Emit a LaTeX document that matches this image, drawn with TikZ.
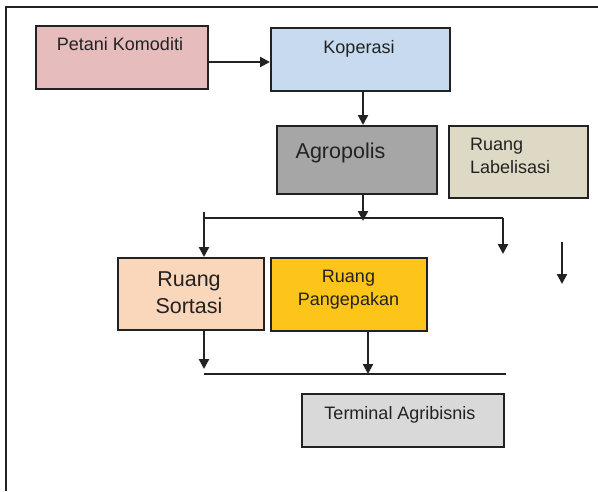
\documentclass[tikz,border=0pt]{standalone}
\usepackage{fontspec}
\setmainfont{Liberation Sans}
\usepackage{tikz}
\usetikzlibrary{calc}
\usetikzlibrary{arrows.meta}
\definecolor{cPetani}{HTML}{E6BCBD}
\definecolor{cKoperasi}{HTML}{C8DAF0}
\definecolor{cAgro}{HTML}{A6A6A6}
\definecolor{cLabel}{HTML}{DDD9C4}
\definecolor{cSortasi}{HTML}{FAD6BB}
\definecolor{cKemas}{HTML}{FDC41A}
\definecolor{cTerminal}{HTML}{D9D9D9}
\definecolor{ink}{HTML}{222222}
\newcommand{\txt}{\fontsize{18}{23}\selectfont}
\newcommand{\txtbig}{\fontsize{21.5}{27}\selectfont}

\begin{document}
\begin{tikzpicture}[x=1pt,y=-1pt,
  box/.style={draw=ink,line width=2pt,inner sep=0pt,anchor=north west},
  lbl/.style={inner sep=0pt,text=ink,font=\txt},
  arr/.style={draw=ink,line width=2.2pt,-{Triangle[length=10pt,width=10pt]}}]
  \useasboundingbox (0,0) rectangle (598,491);
  \draw[ink,line width=2.4pt] (6,491) -- (6,7) -- (598,7);
  % boxes
  \node[box,fill=cPetani,minimum width=172pt,minimum height=63pt] (pt) at (35,25) {};
  \node[box,fill=cKoperasi,minimum width=179pt,minimum height=63pt] (kp) at (270,27) {};
  \node[box,fill=cAgro,minimum width=160pt,minimum height=68pt] (ag) at (276,125) {};
  \node[box,fill=cLabel,minimum width=139pt,minimum height=72pt] (lb) at (448,125) {};
  \node[box,fill=cSortasi,minimum width=146pt,minimum height=72pt] (so) at (117,257) {};
  \node[box,fill=cKemas,minimum width=156pt,minimum height=73pt] (km) at (270,257) {};
  \node[box,fill=cTerminal,minimum width=202pt,minimum height=53pt] (tm) at (301,393) {};
  % texts
  \node[lbl,anchor=base] (ptT) at (120,50) {Petani Komoditi};
  \node[lbl,anchor=base] (kpT) at (359,53) {Koperasi};
  \node[lbl,anchor=base,font=\txtbig] (agT) at (340.5,158) {Agropolis};
  \node[lbl,anchor=north west,align=left] (lbT) at (470,138) {Ruang\\Labelisasi};
  \node[lbl,anchor=north,align=center,font=\txtbig] (soT) at (189,272) {Ruang\\Sortasi};
  \node[lbl,anchor=north,align=center] (kmT) at (348.5,270) {Ruang\\Pangepakan};
  \node[lbl,anchor=base] (tmT) at (400,419) {Terminal Agribisnis};
  % bus lines
  \coordinate (busL) at (204,218);
  \coordinate (busR) at (503,218);
  \coordinate (outR) at (503,254);
  \coordinate (loneA) at (562,242);
  \coordinate (loneB) at (562,284);
  \coordinate (lowL) at (204,374);
  \coordinate (lowR) at (506,374);
  % arrows
  \draw[arr] ([yshift=-4.5pt]pt.east) -- ([yshift=-4.5pt]pt.east -| kp.west);
  \draw[arr] ([xshift=2.5pt]kp.south) -- ([xshift=2.5pt]kp.south |- ag.north);
  \draw[arr] ([xshift=6pt]ag.south) -- ([xshift=6pt,yshift=-3pt]ag.south |- busL);
  \draw[ink,line width=2.2pt] (busL) -- (busR);
  \draw[arr] ([yshift=6pt]busL) -- (busL |- so.north);
  \draw[arr] (busR) -- (outR);
  \draw[arr] (loneA) -- (loneB);
  \draw[arr] (so.south -| lowL) -- ([yshift=5pt]lowL);
  \draw[arr] ([xshift=19pt]km.south) -- ([xshift=19pt]km.south |- lowL);
  \draw[ink,line width=2.2pt] (lowL) -- (lowR);
\end{tikzpicture}
\end{document}
